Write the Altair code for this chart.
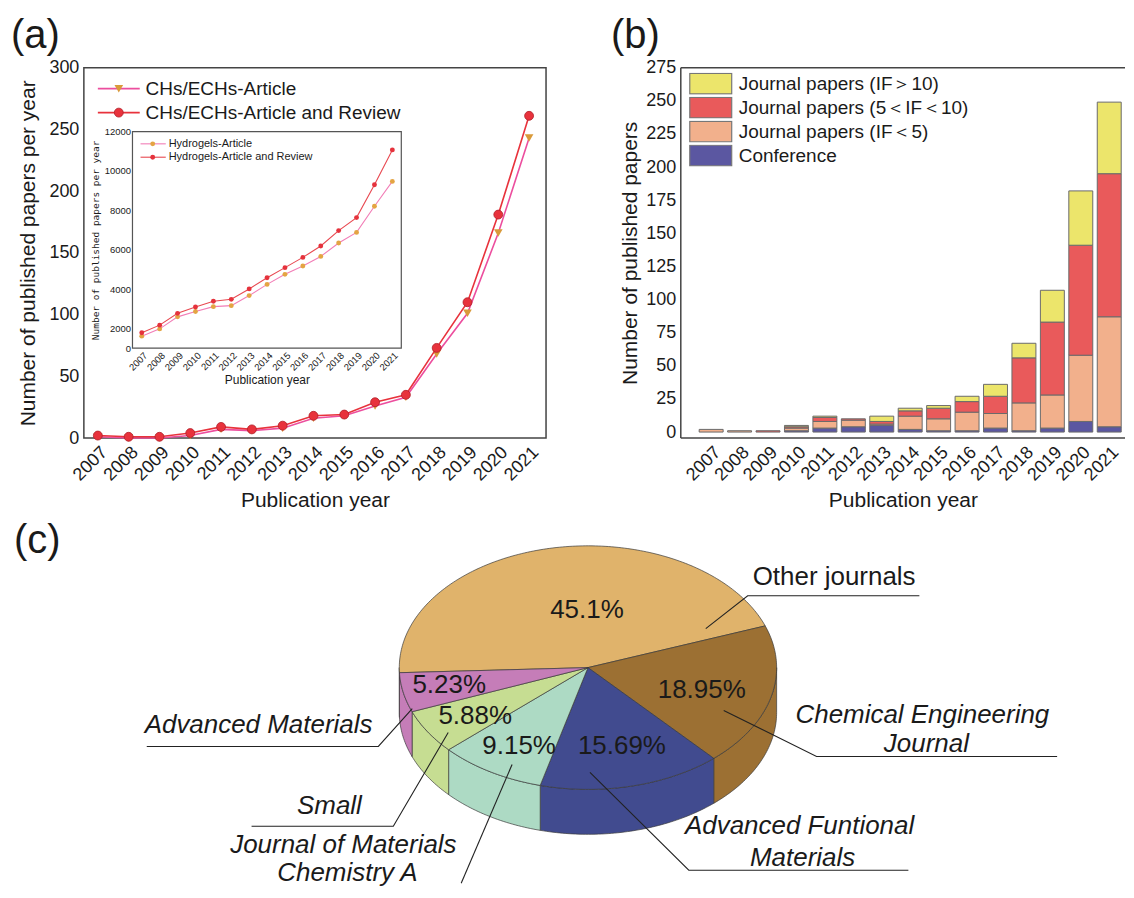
import numpy as np
import pandas as pd
import altair as alt

FONT = "Liberation Sans"
TXT = "#1a1a1a"
FRAME = "#444444"

# ---------------- data ----------------
years = list(range(2007, 2022))

# (a) main panel
chs_article = [1, 0, 0, 2, 7, 6, 8, 16, 18, 26, 33, 68, 101, 166, 243]
chs_article_review = [2, 1, 1, 4, 9, 7, 10, 18, 19, 29, 35, 73, 110, 181, 261]

# (a) inset
hyd_article = [1610, 1980, 2590, 2860, 3110, 3160, 3670, 4240, 4750, 5170, 5660, 6340, 6880, 8210, 9470]
hyd_article_review = [1780, 2170, 2770, 3090, 3380, 3480, 4010, 4580, 5090, 5610, 6190, 6970, 7630, 9300, 11070]

# (b) stacked bars
bar_categories = ["Journal papers (IF＞10)", "Journal papers (5＜IF＜10)",
                  "Journal papers (IF＜5)", "Conference"]
conference = [0, 0, 0, 1, 3, 4, 5, 2, 1, 1, 3, 1, 3, 8, 4]
if_lt5 = [2, 1, 0, 2, 5, 5, 1, 10, 9, 14, 11, 21, 25, 50, 83]
if_5_10 = [0, 0, 1, 1, 3, 1, 2, 4, 8, 8, 13, 34, 55, 83, 108]
if_gt10 = [0, 0, 0, 1, 1, 0, 4, 2, 2, 4, 9, 11, 24, 41, 54]

# (c) pie
journals = ["Other journals", "Chemical Engineering Journal", "Advanced Funtional Materials",
            "Journal of Materials Chemistry A", "Small", "Advanced Materials"]
shares = [45.1, 18.95, 15.69, 9.15, 5.88, 5.23]
pct_labels = ["45.1%", "18.95%", "15.69%", "9.15%", "5.88%", "5.23%"]

# ---------------- styles ----------------
PINK, RED, ORANGE = "#EC4E9E", "#E8323C", "#D99A3A"
I_PINK, I_RED, I_ORANGE, I_REDM = "#F27DB6", "#E84850", "#E4A443", "#E5323C"
bar_colors = ["#ECE56B", "#E95A5B", "#F2B08C", "#5B57A1"]
pie_colors = ["#E0B36B", "#9C7033", "#414B8F", "#ADDAC4", "#C6DD92", "#C57DB8"]

# ================= panel (a) =================
X_A = alt.Scale(domain=[2006.546, 2021.55], nice=False, zero=False)
Y_A = alt.Scale(domain=[0, 300], nice=False, zero=False)
dfa1 = pd.DataFrame({"year": years, "val": chs_article})
dfa2 = pd.DataFrame({"year": years, "val": chs_article_review})

xa = alt.X("year:Q", scale=X_A, axis=alt.Axis(values=years, format="d", labelAngle=-45,
                                              labelOverlap=False,
                                              title="Publication year", titlePadding=6))
ya = alt.Y("val:Q", scale=Y_A, axis=alt.Axis(values=list(range(0, 301, 50)),
                                             title="Number of published papers per year",
                                             titlePadding=10))
xan = alt.X("year:Q", scale=X_A, axis=None)
yan = alt.Y("val:Q", scale=Y_A, axis=None)

a_line1 = alt.Chart(dfa1).mark_line(color=PINK, strokeWidth=1.6).encode(x=xa, y=ya)
a_tri = alt.Chart(dfa1).mark_point(shape="triangle-down", filled=True, color=ORANGE,
                                   size=75, opacity=1).encode(x=xan, y=yan)
a_line2 = alt.Chart(dfa2).mark_line(color=RED, strokeWidth=1.6).encode(x=xan, y=yan)
a_circ = alt.Chart(dfa2).mark_point(shape="circle", filled=True, color=RED, size=80, opacity=1,
                                    stroke="#B01E28", strokeWidth=0.8).encode(x=xan, y=yan)

leg_a = pd.DataFrame({"label": ["CHs/ECHs-Article", "CHs/ECHs-Article and Review"],
                      "ly": [283.0, 263.6], "x0": [2007.0, 2007.0], "x1": [2008.36, 2008.36],
                      "xm": [2007.68, 2007.68], "xt": [2008.55, 2008.55]})
la_x0 = alt.X("x0:Q", scale=X_A, axis=None)
la_xm = alt.X("xm:Q", scale=X_A, axis=None)
la_xt = alt.X("xt:Q", scale=X_A, axis=None)
la_y = alt.Y("ly:Q", scale=Y_A, axis=None)
la_r1 = alt.Chart(leg_a.iloc[[0]]).mark_rule(color=PINK, strokeWidth=1.6).encode(
    x=la_x0, x2="x1:Q", y=la_y)
la_r2 = alt.Chart(leg_a.iloc[[1]]).mark_rule(color=RED, strokeWidth=1.6).encode(
    x=la_x0, x2="x1:Q", y=la_y)
la_m1 = alt.Chart(leg_a.iloc[[0]]).mark_point(shape="triangle-down", filled=True, color=ORANGE,
                                              size=75, opacity=1).encode(x=la_xm, y=la_y)
la_m2 = alt.Chart(leg_a.iloc[[1]]).mark_point(shape="circle", filled=True, color=RED, size=80,
                                              opacity=1, stroke="#B01E28",
                                              strokeWidth=0.8).encode(x=la_xm, y=la_y)
la_t = alt.Chart(leg_a).mark_text(align="left", baseline="middle", fontSize=19, font=FONT,
                                  color=TXT).encode(x=la_xt, y=la_y, text="label:N")

main_children = [a_line1, a_tri, a_line2, a_circ, la_r1, la_r2, la_m1, la_m2, la_t]

# ---- inset ----
X_I = alt.Scale(domain=[2006.48, 2021.5], range=[48.7, 318], nice=False, zero=False)
Y_I = alt.Scale(domain=[1000, 12000], range=[281, 64], nice=False, zero=False)
dfi1 = pd.DataFrame({"year": years, "val": hyd_article})
dfi2 = pd.DataFrame({"year": years, "val": hyd_article_review})
frame_i = pd.DataFrame({"x0": [2006.48], "x1": [2021.5], "y0": [1000], "y1": [12000]})

xi = alt.X("year:Q", scale=X_I, axis=alt.Axis(values=years, format="d", labelAngle=-45,
                                              labelOverlap=False,
                                              labelFontSize=9.5, labelPadding=2, orient="bottom",
                                              offset=-90, title="Publication year",
                                              titleFontSize=12, titlePadding=3))
yi = alt.Y("val:Q", scale=Y_I, axis=alt.Axis(
    values=[1000] + list(range(2000, 12001, 2000)),
    labelExpr="datum.value == 1000 ? '0' : format(datum.value, 'd')",
    labelOverlap=False,
    labelFontSize=9.5, labelPadding=2, orient="left", offset=-48.7,
    title="Number of published papers per year", titleFont="DejaVu Sans Mono",
    titleFontSize=9.5, titlePadding=4))
xin = alt.X("year:Q", scale=X_I, axis=None)
yin = alt.Y("val:Q", scale=Y_I, axis=None)

i_frame = alt.Chart(frame_i).mark_rect(fill="white", stroke="#555555", strokeWidth=1.2).encode(
    x=alt.X("x0:Q", scale=X_I, axis=None), x2="x1:Q",
    y=alt.Y("y0:Q", scale=Y_I, axis=None), y2="y1:Q")
i_line1 = alt.Chart(dfi1).mark_line(color=I_PINK, strokeWidth=1.1).encode(x=xi, y=yi)
i_pt1 = alt.Chart(dfi1).mark_point(shape="circle", filled=True, color=I_ORANGE, size=24,
                                   opacity=1).encode(x=xin, y=yin)
i_line2 = alt.Chart(dfi2).mark_line(color=I_RED, strokeWidth=1.1).encode(x=xin, y=yin)
i_pt2 = alt.Chart(dfi2).mark_point(shape="circle", filled=True, color=I_REDM, size=24,
                                   opacity=1).encode(x=xin, y=yin)

leg_i = pd.DataFrame({"label": ["Hydrogels-Article", "Hydrogels-Article and Review"],
                      "ly": [11377.0, 10698.0], "x0": [2006.93, 2006.93], "x1": [2008.34, 2008.34],
                      "xm": [2007.61, 2007.61], "xt": [2008.5, 2008.5]})
li_x0 = alt.X("x0:Q", scale=X_I, axis=None)
li_xm = alt.X("xm:Q", scale=X_I, axis=None)
li_xt = alt.X("xt:Q", scale=X_I, axis=None)
li_y = alt.Y("ly:Q", scale=Y_I, axis=None)
li_r1 = alt.Chart(leg_i.iloc[[0]]).mark_rule(color=I_PINK, strokeWidth=1.1).encode(
    x=li_x0, x2="x1:Q", y=li_y)
li_r2 = alt.Chart(leg_i.iloc[[1]]).mark_rule(color=I_RED, strokeWidth=1.1).encode(
    x=li_x0, x2="x1:Q", y=li_y)
li_m1 = alt.Chart(leg_i.iloc[[0]]).mark_point(shape="circle", filled=True, color=I_ORANGE,
                                              size=24, opacity=1).encode(x=li_xm, y=li_y)
li_m2 = alt.Chart(leg_i.iloc[[1]]).mark_point(shape="circle", filled=True, color=I_REDM,
                                              size=24, opacity=1).encode(x=li_xm, y=li_y)
li_t = alt.Chart(leg_i).mark_text(align="left", baseline="middle", fontSize=11, font=FONT,
                                  color=TXT).encode(x=li_xt, y=li_y, text="label:N")

inset_children = [i_frame, i_line1, i_pt1, i_line2, i_pt2, li_r1, li_r2, li_m1, li_m2, li_t]

# ================= panel (c) pie (3D look) =================
A_AX, B_AX, DEPTH, T0 = 189.0, 122.0, 45.0, 177.6
edges = T0 + np.concatenate([[0.0], np.cumsum(shares)]) * 3.6


def ell(t):
    r = np.radians(t)
    return float(A_AX * np.cos(r)), float(B_AX * np.sin(r))


top_rows, wall_rows = [], []
for i, name in enumerate(journals):
    t1, t2 = edges[i], edges[i + 1]
    ts = np.linspace(t1, t2, int(np.ceil(t2 - t1)) + 1)
    pts = [(0.0, 0.0)] + [ell(t) for t in ts]
    for k, (px, py) in enumerate(pts):
        top_rows.append({"poly": f"t{i}", "name": name, "k": k, "px": px, "py": py})
    for base in (0.0, 360.0):
        lo, hi = max(t1, base), min(t2, base + 180.0)
        if hi > lo:
            ws = np.linspace(lo, hi, int(np.ceil(hi - lo)) + 1)
            upper = [ell(t) for t in ws]
            lower = [(x, y + DEPTH) for x, y in upper[::-1]]
            for k, (px, py) in enumerate(upper + lower):
                wall_rows.append({"poly": f"w{i}_{int(base)}", "name": name, "k": k,
                                  "px": px, "py": py})

X_P = alt.Scale(domain=[-505, 548], range=[0, 1053], nice=False, zero=False)
Y_P = alt.Scale(domain=[-128, 222], range=[473, 823], nice=False, zero=False)
FILL_P = alt.Fill("name:N", scale=alt.Scale(domain=journals, range=pie_colors), legend=None)
xp = alt.X("px:Q", scale=X_P, axis=None)
yp = alt.Y("py:Q", scale=Y_P, axis=None)

p_walls = alt.Chart(pd.DataFrame(wall_rows)).mark_line(
    interpolate="linear-closed", stroke="#3a3a3a", strokeWidth=0.7).encode(
    x=xp, y=yp, fill=FILL_P, detail="poly:N", order="k:Q")
p_tops = alt.Chart(pd.DataFrame(top_rows)).mark_line(
    interpolate="linear-closed", stroke="#3a3a3a", strokeWidth=0.7).encode(
    x=xp, y=yp, fill=FILL_P, detail="poly:N", order="k:Q")

# leader lines (pie units, centre = 0,0)
leaders = {
    "Other journals": [(118, -39), (160, -72), (332, -72)],
    "Chemical Engineering Journal": [(136, 43), (229, 89), (470, 89)],
    "Advanced Funtional Materials": [(2, 105), (101, 203), (321, 203)],
    "Journal of Materials Chemistry A": [(-76, 97), (-127, 216)],
    "Small": [(-140, 65), (-195, 159), (-337, 159)],
    "Advanced Materials": [(-176, 41), (-210, 79), (-442, 79)],
}
lead_rows = [{"name": n, "k": k, "px": p[0], "py": p[1]}
             for n, pts in leaders.items() for k, p in enumerate(pts)]
p_lead = alt.Chart(pd.DataFrame(lead_rows)).mark_line(color="#222222", strokeWidth=1.1).encode(
    x=xp, y=yp, detail="name:N", order="k:Q")

pct_pos = [(-1, -50), (114, 30), (34, 87), (-69, 87), (-113, 56), (-139, 25)]
pct_df = pd.DataFrame({"label": pct_labels, "px": [p[0] for p in pct_pos],
                       "py": [p[1] for p in pct_pos]})
p_pct = alt.Chart(pct_df).mark_text(fontSize=26, font=FONT, color=TXT, align="center",
                                    baseline="alphabetic").encode(x=xp, y=yp, text="label:N")

name_lines = [("Other journals", 165, -83, "left"),
              ("Chemical Engineering", 335, 55, "center"),
              ("Journal", 339, 85, "center"),
              ("Advanced Funtional", 212, 167, "center"),
              ("Materials", 215, 199, "center"),
              ("Advanced Materials", -330, 66, "center"),
              ("Small", -259, 147, "center"),
              ("Journal of Materials", -245, 186, "center"),
              ("Chemistry A", -241, 214, "center")]
nl_df = pd.DataFrame(name_lines, columns=["label", "px", "py", "al"])
p_n1 = alt.Chart(nl_df[nl_df.al == "left"]).mark_text(
    fontSize=26, font=FONT, color=TXT, align="left", baseline="alphabetic").encode(
    x=xp, y=yp, text="label:N")
p_n2 = alt.Chart(nl_df[nl_df.al == "center"]).mark_text(
    fontSize=26, font=FONT, color=TXT, align="center", baseline="alphabetic",
    fontStyle="italic").encode(x=xp, y=yp, text="label:N")

pie_children = [p_walls, p_tops, p_lead, p_pct, p_n1, p_n2]

lab_a = alt.Chart(pd.DataFrame({"t": ["(a)"]})).mark_text(
    fontSize=40, font=FONT, color=TXT, align="left", baseline="alphabetic").encode(
    text="t:N", x=alt.value(-73), y=alt.value(-20))
lab_c = alt.Chart(pd.DataFrame({"t": ["(c)"]})).mark_text(
    fontSize=40, font=FONT, color=TXT, align="left", baseline="alphabetic").encode(
    text="t:N", x=alt.value(-70), y=alt.value(486))

A = alt.layer(*main_children, *inset_children, *pie_children, lab_a, lab_c).resolve_scale(
    x="independent", y="independent").properties(width=463, height=371)

# ================= panel (b) =================
rows = []
for i, yr in enumerate(years):
    for cat, arr, rank in [(bar_categories[3], conference, 0), (bar_categories[2], if_lt5, 1),
                           (bar_categories[1], if_5_10, 2), (bar_categories[0], if_gt10, 3)]:
        rows.append({"year": yr, "cat": cat, "n": arr[i], "rank": rank})
dfb = pd.DataFrame(rows)

WB, HB = 445, 371
X_B = alt.Scale(domain=[2006.108, 2021.379], nice=False, zero=False)
Y_B = alt.Scale(domain=[-4.5, 275], nice=False, zero=False)

bars = alt.Chart(dfb).transform_filter("datum.n > 0").mark_bar(
    size=24, stroke="#6a6a6a", strokeWidth=1).encode(
    x=alt.X("year:Q", scale=X_B, axis=alt.Axis(values=years, format="d", labelAngle=-45,
                                               labelOverlap=False,
                                               title="Publication year", titlePadding=6)),
    y=alt.Y("n:Q", stack="zero", scale=Y_B,
            axis=alt.Axis(values=list(range(0, 276, 25)), title="Number of published papers",
                          titlePadding=5)),
    color=alt.Color("cat:N", scale=alt.Scale(domain=bar_categories, range=bar_colors),
                    legend=alt.Legend(orient="none", legendX=8, legendY=5, title=None,
                                      symbolType="M-1,-0.49H1V0.49H-1Z", symbolSize=1764,
                                      symbolStrokeColor="#777777", symbolStrokeWidth=1.2,
                                      symbolOpacity=1, labelFontSize=19, labelFont=FONT,
                                      labelColor=TXT, labelOffset=6, labelLimit=0,
                                      clipHeight=22, rowPadding=2, padding=0)),
    order=alt.Order("rank:Q", sort="ascending"))

one = pd.DataFrame({"t": ["(b)"]})
lab_b = alt.Chart(one).mark_text(
    fontSize=40, font=FONT, color=TXT, align="left", baseline="alphabetic").encode(
    text="t:N", x=alt.value(-70), y=alt.value(-20))
# open frame (right side runs off the page in the original)
fr_left = alt.Chart(one).mark_rule(color=FRAME, strokeWidth=1.5).encode(
    x=alt.value(0), y=alt.value(0), y2=alt.value(HB))
fr_top = alt.Chart(one).mark_rule(color=FRAME, strokeWidth=1.5).encode(
    x=alt.value(0), x2=alt.value(WB), y=alt.value(0))
fr_bot = alt.Chart(one).mark_rule(color=FRAME, strokeWidth=1.5).encode(
    x=alt.value(0), x2=alt.value(WB), y=alt.value(HB))

B = alt.layer(bars, fr_left, fr_top, fr_bot, lab_b).properties(
    width=WB, height=HB, view=alt.ViewBackground(strokeOpacity=0))

chart = alt.hconcat(A, B, spacing=135, bounds="flush").resolve_scale(
    color="independent").resolve_legend(color="independent").properties(
    padding={"left": 2, "top": 6, "right": 0, "bottom": 0}
).configure_view(stroke=FRAME, strokeWidth=1.5).configure_axis(
    grid=False, domain=False, ticks=False, labelFont=FONT, titleFont=FONT, labelFontSize=18,
    titleFontSize=21, titleFontWeight="normal", labelColor=TXT, titleColor=TXT, labelPadding=5
)

chart.save("out.html", embed_options={"renderer": "svg", "actions": False})
